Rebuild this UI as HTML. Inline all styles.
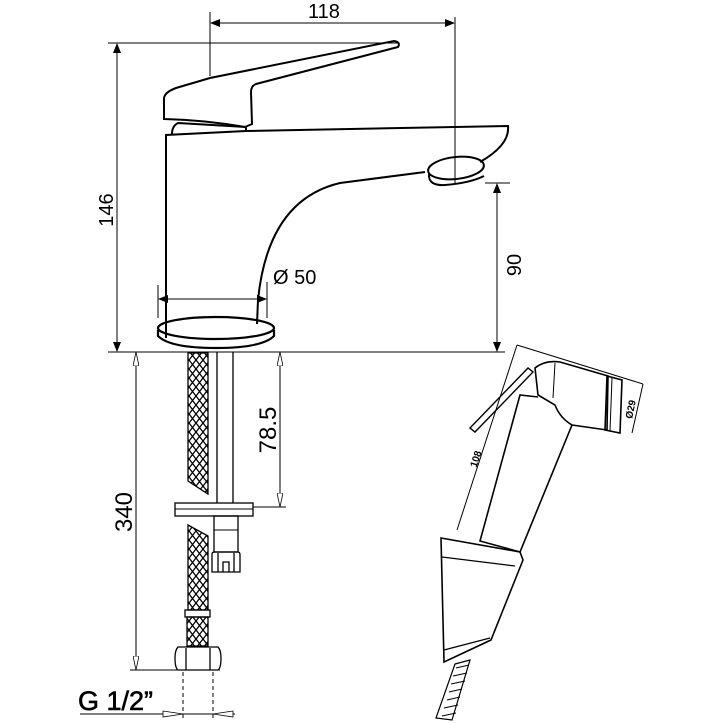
<!DOCTYPE html>
<html><head><meta charset="utf-8"><style>html,body{margin:0;padding:0;background:#fff}svg{display:block}</style></head>
<body>
<svg width="724" height="724" viewBox="0 0 724 724" xmlns="http://www.w3.org/2000/svg" fill="none" stroke="#000" stroke-width="1.3" font-family="Liberation Sans, sans-serif">
<defs>
<pattern id="br" width="7" height="9" patternUnits="userSpaceOnUse">
<path d="M0 0L7 9M7 0L0 9" stroke="#000" stroke-width="1.3"/>
</pattern>
<marker id="a" markerWidth="10" markerHeight="8" refX="9" refY="4" orient="auto-start-reverse" markerUnits="userSpaceOnUse"><path d="M0 0L10 4L0 8Z" fill="#000" stroke="none"/></marker>
<marker id="o" markerWidth="14" markerHeight="6" refX="13" refY="3" orient="auto-start-reverse" markerUnits="userSpaceOnUse"><path d="M0 0L14 3L0 6Z" fill="#fff" stroke="#000" stroke-width="0.8"/></marker>
</defs>

<!-- top faucet dims -->
<line x1="210" y1="12" x2="210" y2="76" stroke-width="1"/>
<line x1="455" y1="17" x2="455" y2="183" stroke-width="1"/>
<line x1="211" y1="23" x2="454" y2="23" stroke-width="1" marker-start="url(#a)" marker-end="url(#a)"/>
<text x="324" y="18" font-size="20" fill="#000" stroke="none" text-anchor="middle">118</text>
<line x1="108" y1="43" x2="398" y2="43" stroke-width="1"/>
<line x1="117" y1="44" x2="117" y2="351" stroke-width="1" marker-start="url(#a)" marker-end="url(#a)"/>
<text transform="translate(113,210) rotate(-90)" font-size="20" fill="#000" stroke="none" text-anchor="middle">146</text>
<line x1="108" y1="352" x2="505" y2="352" stroke-width="1"/>
<line x1="485" y1="183" x2="510" y2="183" stroke-width="1"/>
<line x1="497" y1="184" x2="497" y2="351" stroke-width="1" marker-start="url(#a)" marker-end="url(#a)"/>
<text transform="translate(521,265) rotate(-90)" font-size="20" fill="#000" stroke="none" text-anchor="middle">90</text>

<!-- lever -->
<path d="M164 98Q165 92 176 88L210 78L394 41Q401 42 398 47L256 84Q251 86 251 92L252 124L245 127Q205 120 164 119Z" stroke-width="2"/>
<path d="M172 134Q172 126 178 123L246 127L246 131" stroke-width="2"/>
<!-- body -->
<path d="M166 338L166 135L246 131L508 126Q510 145 480 162" stroke-width="2"/>
<path d="M425 172L340 183Q268 200 258 300L257 324" stroke-width="2"/>
<ellipse cx="456" cy="168" rx="28" ry="11" transform="rotate(-6 456 168)" stroke-width="2"/>
<path d="M429 174Q428 186 445 185Q470 183 484 176" stroke-width="2"/>
<!-- base -->
<ellipse cx="216" cy="328" rx="58" ry="11" stroke-width="2.2"/>
<path d="M158 330L158 336Q170 348 216 348Q262 348 274 336L274 330" stroke-width="2.2"/>
<!-- dia 50 -->
<line x1="158" y1="285" x2="158" y2="318" stroke-width="1"/>
<line x1="267" y1="282" x2="267" y2="318" stroke-width="1"/>
<line x1="159" y1="299" x2="266" y2="299" stroke-width="1" marker-start="url(#a)" marker-end="url(#a)"/>
<text x="273" y="284" font-size="20" fill="#000" stroke="none">Ø 50</text>

<!-- hoses -->
<path d="M188 353L208 353L208 494L188 481Z" fill="url(#br)" stroke-width="1.3"/>
<line x1="217" y1="352" x2="217" y2="503"/><line x1="233" y1="352" x2="233" y2="503"/>
<rect x="175" y="503" width="78" height="13" fill="#fff"/>
<line x1="175" y1="509" x2="253" y2="509" stroke-width="1"/>
<rect x="214" y="516" width="24" height="36"/>
<line x1="214" y1="530" x2="238" y2="530" stroke-width="1"/>
<path d="M212 554Q212 552 215 552L238 552Q240 552 240 555L240 572L212 572Z"/>
<path d="M223 572L223 562L229 562L229 572"/><line x1="218" y1="553" x2="218" y2="572"/><line x1="234" y1="553" x2="234" y2="572"/>
<path d="M188 525L208 536L208 610L188 610Z" fill="url(#br)"/>
<rect x="185" y="610" width="25" height="7"/>
<rect x="187" y="617" width="21" height="29" fill="url(#br)"/>
<path d="M178 647L218 647Q221 650 221 658Q221 668 218 670L178 670Q175 668 175 658Q175 650 178 647Z"/>
<line x1="186" y1="648" x2="186" y2="670"/><line x1="210" y1="648" x2="210" y2="670"/>
<!-- 78.5 -->
<line x1="253" y1="507" x2="286" y2="507" stroke-width="1"/>
<line x1="280" y1="353" x2="280" y2="506" stroke-width="1" marker-start="url(#o)" marker-end="url(#o)"/>
<text transform="translate(276,430) rotate(-90)" font-size="24" fill="#000" stroke="none" text-anchor="middle">78.5</text>
<!-- 340 -->
<line x1="130" y1="670" x2="220" y2="670" stroke-width="1"/>
<line x1="136" y1="353" x2="136" y2="669" stroke-width="1" marker-start="url(#o)" marker-end="url(#o)"/>
<text transform="translate(132,512) rotate(-90)" font-size="24" fill="#000" stroke="none" text-anchor="middle">340</text>
<!-- G 1/2 -->
<line x1="183" y1="672" x2="183" y2="718" stroke-width="1" stroke-dasharray="4 3"/>
<line x1="213" y1="672" x2="213" y2="718" stroke-width="1" stroke-dasharray="4 3"/>
<line x1="80" y1="714" x2="235" y2="714" stroke-width="1"/>
<path d="M163 711L183 714L163 717Z" fill="#fff" stroke-width="0.8"/>
<path d="M233 711L213 714L233 717Z" fill="#fff" stroke-width="0.8"/>
<text x="78" y="710" font-size="27" fill="#000" stroke="#000" stroke-width="0.6">G 1/2”</text>

<!-- hand shower -->
<line x1="517" y1="345" x2="643" y2="384" stroke-width="1"/>
<line x1="517" y1="345" x2="457" y2="530" stroke-width="1"/>
<line x1="643" y1="384" x2="632" y2="433" stroke-width="1"/>
<text transform="translate(479,460) rotate(-72)" font-size="10" fill="#000" stroke="none" text-anchor="middle" font-weight="bold">108</text>
<text transform="translate(634,410) rotate(-78)" font-size="10" fill="#000" stroke="none" text-anchor="middle" font-weight="bold">Ø29</text>
<path d="M535 368Q545 360 560 362L608 376L607 430L572 425Q560 418 555 405L538 395Z" stroke-width="1.6"/>
<path d="M607 376L622 380L620 433L605 430Z" stroke-width="1.6"/>
<line x1="612" y1="378" x2="610" y2="431" stroke-width="1"/>
<line x1="555" y1="363" x2="553" y2="398" stroke-width="1"/>
<path d="M572 425L520 552L480 541L520 395L538 397" stroke-width="1.6"/>
<path d="M470 428L528 368L533 372L475 432Z" stroke-width="1.4"/>
<path d="M441 538L520 552L523 560L491 640L444 662Z" stroke-width="1.6"/>
<line x1="442" y1="557" x2="515" y2="566" stroke-width="1.2"/>
<line x1="444" y1="650" x2="490" y2="638" stroke-width="1.2"/>
<path d="M455 664L470 660L452 720L436 718Z" stroke-width="1.2"/>
<path d="M456 668L469 665M453 676L467 673M451 684L465 681M449 692L462 689M447 700L460 697M444 708L458 705M442 716L456 713" stroke-width="1"/>
</svg>
</body></html>
